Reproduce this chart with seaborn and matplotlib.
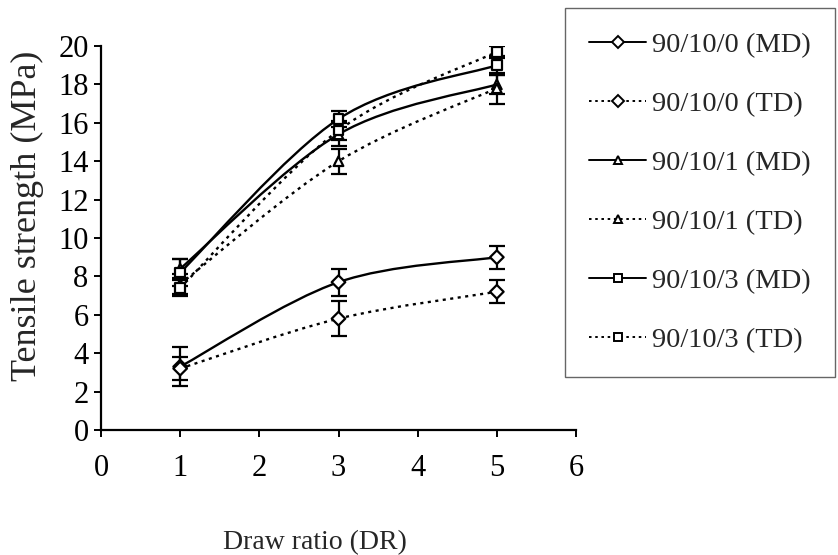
import numpy as np
import pandas as pd
import matplotlib
matplotlib.use("Agg")
import matplotlib.pyplot as plt
from matplotlib.path import Path
from matplotlib.patches import PathPatch
from matplotlib.lines import Line2D
import seaborn as sns

# Draw ratio (DR) at which the films were tested
draw_ratio = [1, 3, 5]

# Series labels (blend ratio and testing direction)
series_labels = ["90/10/0 (MD)", "90/10/0 (TD)", "90/10/1 (MD)",
                 "90/10/1 (TD)", "90/10/3 (MD)", "90/10/3 (TD)"]

# Tensile strength (MPa) and standard deviation for each series
ts_0_md = [3.3, 7.7, 9.0]
sd_0_md = [1.0, 0.7, 0.6]
ts_0_td = [3.2, 5.8, 7.2]
sd_0_td = [0.6, 0.9, 0.6]
ts_1_md = [8.4, 15.4, 18.0]
sd_1_md = [0.5, 0.6, 0.5]
ts_1_td = [7.6, 14.0, 17.8]
sd_1_td = [0.5, 0.65, 0.8]
ts_3_md = [8.2, 16.2, 19.0]
sd_3_md = [0.7, 0.4, 0.5]
ts_3_td = [7.4, 15.6, 19.7]
sd_3_td = [0.4, 0.5, 0.3]

series_values = [ts_0_md, ts_0_td, ts_1_md, ts_1_td, ts_3_md, ts_3_td]
series_sd = [sd_0_md, sd_0_td, sd_1_md, sd_1_td, sd_3_md, sd_3_td]
series_markers = ["D", "D", "^", "^", "s", "s"]
dotted = (0, (1.3, 1.9))
series_styles = ["-", dotted, "-", dotted, "-", dotted]

x_ticks = [0, 1, 2, 3, 4, 5, 6]
y_ticks = [0, 2, 4, 6, 8, 10, 12, 14, 16, 18, 20]

rows = []
for lab, vals, sds in zip(series_labels, series_values, series_sd):
    for x, v, s in zip(draw_ratio, vals, sds):
        rows.append({"series": lab, "dr": x, "ts": v, "sd": s})
df = pd.DataFrame(rows)

sns.set_style("ticks")
plt.rcParams["font.family"] = ["Liberation Serif", "DejaVu Serif"]

W, H = 838, 555
fig = plt.figure(figsize=(W / 100, H / 100), dpi=100)
ax = fig.add_axes([101 / W, 1 - 430 / H, (576 - 101) / W, (430 - 46) / H])


def smooth_path(xs, ys):
    """Smoothed (Catmull-Rom style) Bezier path through the points."""
    pts = np.column_stack([xs, ys]).astype(float)
    n = len(pts)
    verts = [pts[0]]
    codes = [Path.MOVETO]
    for i in range(n - 1):
        p0 = pts[i - 1] if i > 0 else pts[i]
        p1 = pts[i]
        p2 = pts[i + 1]
        p3 = pts[i + 2] if i + 2 < n else pts[i + 1]
        c1 = p1 + (p2 - p0) / 6.0
        c2 = p2 - (p3 - p1) / 6.0
        verts += [c1, c2, p2]
        codes += [Path.CURVE4] * 3
    return Path(verts, codes)


for lab, ls in zip(series_labels, series_styles):
    sub = df[df["series"] == lab]
    patch = PathPatch(smooth_path(sub["dr"], sub["ts"]), fill=False,
                      edgecolor="black", lw=1.7, linestyle=ls,
                      transform=ax.transData, zorder=2)
    ax.add_patch(patch)
    ax.errorbar(sub["dr"], sub["ts"], yerr=sub["sd"], fmt="none",
                ecolor="black", elinewidth=1.6, capsize=6, capthick=1.6,
                zorder=3)

sns.scatterplot(data=df, x="dr", y="ts", style="series",
                markers=dict(zip(series_labels, series_markers)),
                hue="series", palette=["black"] * 6,
                s=48, facecolor="white", edgecolor="black", linewidth=1.6,
                legend=False, ax=ax, zorder=4)
for coll in ax.collections:
    coll.set_facecolor("white")
    coll.set_edgecolor("black")

ax.set_xlim(0, 6)
ax.set_ylim(0, 20)
ax.set_xticks(x_ticks)
ax.set_yticks(y_ticks)
ax.set_xticklabels([str(t) for t in x_ticks])
ax.set_yticklabels([str(t) for t in y_ticks])
ax.set_xlabel("")
ax.set_ylabel("")
for side in ["top", "right"]:
    ax.spines[side].set_visible(False)
for side in ["left", "bottom"]:
    ax.spines[side].set_linewidth(1.6)
    ax.spines[side].set_color("black")
ax.tick_params(axis="x", direction="out", length=5, width=1.4, pad=12,
               labelsize=22, colors="black")
ax.tick_params(axis="y", direction="out", length=5, width=1.4, pad=4,
               labelsize=22, colors="black")
ax.set_facecolor("white")

fig.text(27 / W, 1 - 216 / H, "Tensile strength (MPa)", rotation=90,
         ha="center", va="center", fontsize=26)
fig.text(315 / W, 1 - 543 / H, "Draw ratio (DR)", ha="center",
         va="center", fontsize=20)

handles = []
for lab, mk, ls in zip(series_labels, series_markers, series_styles):
    handles.append(Line2D([0], [0], color="black", lw=1.4, linestyle=ls,
                          marker=mk, markersize=6, markerfacecolor="white",
                          markeredgecolor="black", markeredgewidth=1.4))
leg = fig.legend(handles, series_labels, loc="upper left",
                 bbox_to_anchor=(565 / W, 1 - 8 / H), borderaxespad=0,
                 fontsize=20.5, frameon=True, fancybox=False, shadow=False,
                 handlelength=2.0, handletextpad=0.2, labelspacing=1.16,
                 borderpad=0.85)
leg.get_frame().set_edgecolor("#666666")
leg.get_frame().set_linewidth(1.0)
leg.get_frame().set_alpha(1)

fig.savefig("out.png", dpi=100, facecolor="white")
